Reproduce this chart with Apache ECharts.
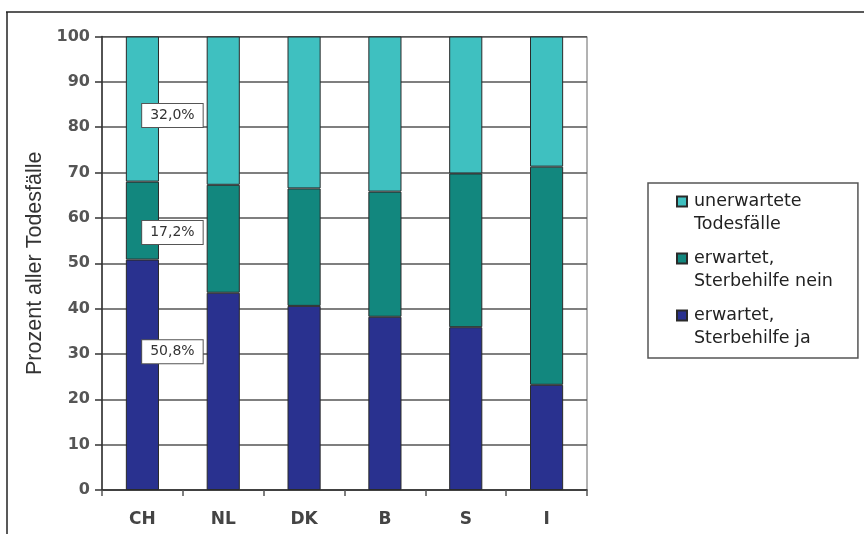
<!DOCTYPE html>
<html>
<head>
<meta charset="utf-8">
<script src="https://cdn.jsdelivr.net/npm/echarts@6/dist/echarts.min.js"></script>
<style>
  html, body { margin: 0; padding: 0; background: #ffffff; }
  #chart { width: 864px; height: 534px; }
</style>
</head>
<body>
<div id="chart"></div>
<script>
// Countries on the x axis
const categories = ['CH', 'NL', 'DK', 'B', 'S', 'I'];

// Share of all deaths (percent), stacked from bottom to top
const sterbehilfeJa = [50.8, 43.5, 40.6, 38.2, 35.9, 23.2];
const sterbehilfeNein = [17.2, 23.8, 25.9, 27.6, 33.9, 48.1];
const unerwartet = [32.0, 32.7, 33.5, 34.2, 30.2, 28.7];

// Series names as shown in the legend
const nameJa = 'erwartet,\nSterbehilfe ja';
const nameNein = 'erwartet,\nSterbehilfe nein';
const nameUnerwartet = 'unerwartete\nTodesfälle';

// Only the first country carries value boxes
const labelledIndex = 0;

const colors = { ja: '#29318f', nein: '#12877e', unerwartet: '#3fc0c0' };

function fmt(v) {
  return v.toFixed(1).replace('.', ',') + '%';
}

function withLabel(values, dy) {
  return values.map(function (v, i) {
    if (i !== labelledIndex) return v;
    return {
      value: v,
      label: {
        show: true,
        position: 'inside',
        offset: [30, dy],
        formatter: function (p) { return fmt(p.value); },
        fontFamily: 'DejaVu Sans',
        fontSize: 14,
        color: '#333',
        backgroundColor: '#ffffff',
        borderColor: '#555',
        borderWidth: 1,
        padding: [5, 8, 4, 8]
      }
    };
  });
}

// Legend icon: a 10px square at the top of a taller box so it sits beside the first text line
const legendIcon = 'path://M0,0H10V10H0Z M0,33L0,33';

const barCommon = {
  type: 'bar',
  stack: 'total',
  barWidth: '41%',
  emphasis: { disabled: true }
};

const chart = echarts.init(document.getElementById('chart'), null, { renderer: 'canvas' });

chart.setOption({
  animation: false,
  backgroundColor: '#ffffff',
  textStyle: { fontFamily: 'DejaVu Sans' },
  grid: {
    left: 102, right: 277, top: 36.5, bottom: 44,
    show: true,
    backgroundColor: '#ffffff',
    borderColor: '#666',
    borderWidth: 1
  },
  legend: {
    orient: 'vertical',
    left: 648,
    top: 183,
    padding: [7, 25, 8, 28],
    itemWidth: 10,
    itemHeight: 33,
    itemGap: 11,
    borderColor: '#555',
    borderWidth: 1.5,
    selectedMode: false,
    data: [
      { name: nameUnerwartet, icon: legendIcon },
      { name: nameNein, icon: legendIcon },
      { name: nameJa, icon: legendIcon }
    ],
    textStyle: {
      fontFamily: 'DejaVu Sans',
      fontSize: 17.5,
      lineHeight: 23,
      color: '#222',
      padding: [0, 0, 0, 2]
    }
  },
  xAxis: {
    type: 'category',
    data: categories,
    axisLine: { lineStyle: { color: '#333', width: 1.5 } },
    axisTick: { show: true, length: 6, interval: 0, lineStyle: { color: '#555', width: 1.5 } },
    axisLabel: {
      fontFamily: 'DejaVu Sans',
      fontSize: 17,
      fontWeight: 'bold',
      color: '#444',
      margin: 21
    }
  },
  yAxis: {
    type: 'value',
    min: 0,
    max: 100,
    interval: 10,
    name: 'Prozent aller Todesfälle',
    nameLocation: 'middle',
    nameGap: 56,
    nameTextStyle: {
      fontFamily: 'Liberation Sans',
      fontSize: 21.5,
      color: '#333'
    },
    axisLine: { show: true, lineStyle: { color: '#333', width: 1.5 } },
    axisTick: { show: true, length: 7, lineStyle: { color: '#333', width: 1.5 } },
    axisLabel: {
      fontFamily: 'DejaVu Sans',
      fontSize: 16,
      fontWeight: 'bold',
      color: '#555',
      margin: 12
    },
    splitLine: { show: true, lineStyle: { color: '#555', width: 1.5 } }
  },
  series: [
    Object.assign({}, barCommon, {
      name: nameJa,
      data: withLabel(sterbehilfeJa, -23),
      itemStyle: { color: colors.ja, borderColor: '#2a2a2a', borderWidth: 1 }
    }),
    Object.assign({}, barCommon, {
      name: nameNein,
      data: withLabel(sterbehilfeNein, 12),
      itemStyle: { color: colors.nein, borderColor: '#2a2a2a', borderWidth: 1 }
    }),
    Object.assign({}, barCommon, {
      name: nameUnerwartet,
      data: withLabel(unerwartet, 6.5),
      itemStyle: { color: colors.unerwartet, borderColor: '#2a2a2a', borderWidth: 1 }
    })
  ],
  graphic: [
    // Frame lines along the top and left edge of the page
    { type: 'line', shape: { x1: 6, y1: 12, x2: 864, y2: 12 }, style: { stroke: '#222', lineWidth: 1.5 }, silent: true },
    { type: 'line', shape: { x1: 7, y1: 12, x2: 7, y2: 534 }, style: { stroke: '#222', lineWidth: 1.5 }, silent: true }
  ]
});
</script>
</body>
</html>
